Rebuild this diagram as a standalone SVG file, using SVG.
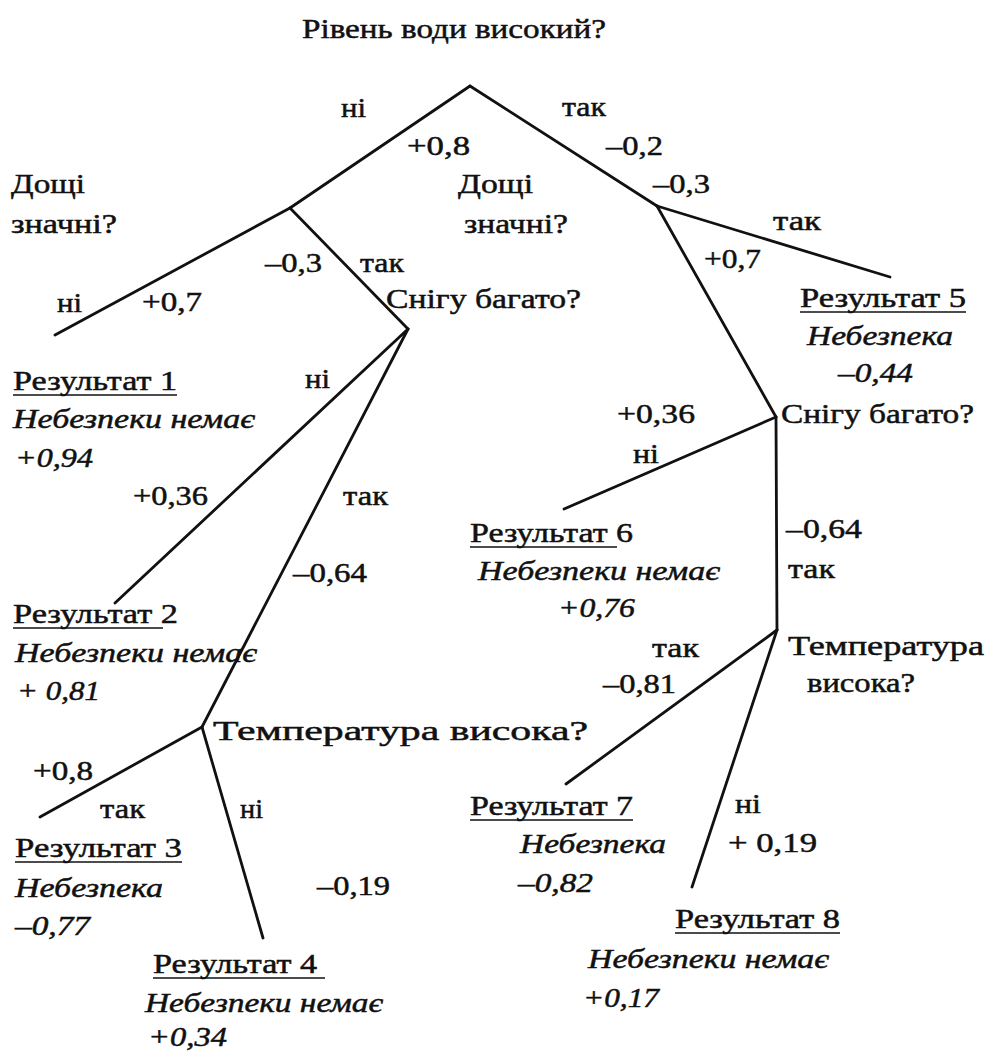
<svg xmlns="http://www.w3.org/2000/svg" width="985" height="1053" viewBox="0 0 985 1053">
<style>
text{font-family:"Liberation Serif","Times New Roman",serif;font-size:28px;fill:#111;stroke:#111;stroke-width:0.5;}
.i{font-style:italic;}
.e{stroke:#111;stroke-width:2.8;stroke-linecap:round;fill:none;}
.u{stroke:#111;stroke-width:1.6;}
</style>
<rect width="985" height="1053" fill="#fff"/>
<g id="connectors">
<line class="e" x1="470" y1="86" x2="290" y2="208"/>
<line class="e" x1="470" y1="86" x2="657" y2="206"/>
<line class="e" x1="290" y1="208" x2="55" y2="335"/>
<line class="e" x1="290" y1="208" x2="408" y2="329"/>
<line class="e" x1="408" y1="329" x2="115" y2="603"/>
<line class="e" x1="408" y1="329" x2="202" y2="727"/>
<line class="e" x1="202" y1="727" x2="40" y2="817"/>
<line class="e" x1="202" y1="727" x2="263" y2="938"/>
<line class="e" x1="657" y1="206" x2="890" y2="277"/>
<line class="e" x1="657" y1="206" x2="776" y2="417"/>
<line class="e" x1="776" y1="417" x2="564" y2="509"/>
<line class="e" x1="776" y1="417" x2="777" y2="630"/>
<line class="e" x1="777" y1="630" x2="566" y2="784"/>
<line class="e" x1="777" y1="630" x2="692" y2="887"/>
</g>
<g id="edge-labels">
<text x="341" y="117" textLength="25" lengthAdjust="spacingAndGlyphs">ні</text>
<text x="407" y="155" textLength="63" lengthAdjust="spacingAndGlyphs">+0,8</text>
<text x="562" y="116" textLength="44" lengthAdjust="spacingAndGlyphs">так</text>
<text x="606" y="155" textLength="57" lengthAdjust="spacingAndGlyphs">–0,2</text>
<text x="57" y="312" textLength="25" lengthAdjust="spacingAndGlyphs">ні</text>
<text x="142" y="311" textLength="60" lengthAdjust="spacingAndGlyphs">+0,7</text>
<text x="265" y="272" textLength="57" lengthAdjust="spacingAndGlyphs">–0,3</text>
<text x="360" y="272" textLength="44" lengthAdjust="spacingAndGlyphs">так</text>
<text x="653" y="193" textLength="57" lengthAdjust="spacingAndGlyphs">–0,3</text>
<text x="773" y="230" textLength="48" lengthAdjust="spacingAndGlyphs">так</text>
<text x="704" y="268" textLength="57" lengthAdjust="spacingAndGlyphs">+0,7</text>
<text x="305" y="388" textLength="25" lengthAdjust="spacingAndGlyphs">ні</text>
<text x="133" y="505" textLength="75" lengthAdjust="spacingAndGlyphs">+0,36</text>
<text x="343" y="505" textLength="45" lengthAdjust="spacingAndGlyphs">так</text>
<text x="293" y="582" textLength="74" lengthAdjust="spacingAndGlyphs">–0,64</text>
<text x="33" y="780" textLength="60" lengthAdjust="spacingAndGlyphs">+0,8</text>
<text x="100" y="818" textLength="45" lengthAdjust="spacingAndGlyphs">так</text>
<text x="240" y="818" textLength="23" lengthAdjust="spacingAndGlyphs">ні</text>
<text x="317" y="895" textLength="73" lengthAdjust="spacingAndGlyphs">–0,19</text>
<text x="617" y="423" textLength="78" lengthAdjust="spacingAndGlyphs">+0,36</text>
<text x="633" y="463" textLength="26" lengthAdjust="spacingAndGlyphs">ні</text>
<text x="786" y="538" textLength="76" lengthAdjust="spacingAndGlyphs">–0,64</text>
<text x="788" y="578" textLength="47" lengthAdjust="spacingAndGlyphs">так</text>
<text x="652" y="657" textLength="47" lengthAdjust="spacingAndGlyphs">так</text>
<text x="603" y="693" textLength="73" lengthAdjust="spacingAndGlyphs">–0,81</text>
<text x="735" y="813" textLength="26" lengthAdjust="spacingAndGlyphs">ні</text>
<text x="728" y="852" textLength="89" lengthAdjust="spacingAndGlyphs">+ 0,19</text>
</g>
<g id="n-root"><text x="302" y="38" textLength="304" lengthAdjust="spacingAndGlyphs">Рівень води високий?</text></g>
<g id="n-rain-left"><text x="11" y="193" textLength="74" lengthAdjust="spacingAndGlyphs">Дощі</text><text x="11" y="233" textLength="106" lengthAdjust="spacingAndGlyphs">значні?</text></g>
<g id="n-rain-right"><text x="458" y="193" textLength="75" lengthAdjust="spacingAndGlyphs">Дощі</text><text x="464" y="233" textLength="104" lengthAdjust="spacingAndGlyphs">значні?</text></g>
<g id="n-snow-left"><text x="386" y="308" textLength="195" lengthAdjust="spacingAndGlyphs">Снігу багато?</text></g>
<g id="n-snow-right"><text x="781" y="423" textLength="193" lengthAdjust="spacingAndGlyphs">Снігу багато?</text></g>
<g id="n-temp-left"><text x="213" y="740" textLength="375" lengthAdjust="spacingAndGlyphs">Температура висока?</text></g>
<g id="n-temp-right"><text x="788" y="655" textLength="196" lengthAdjust="spacingAndGlyphs">Температура</text><text x="807" y="692" textLength="108" lengthAdjust="spacingAndGlyphs">висока?</text></g>
<g id="n-result1"><text x="13" y="390" textLength="164" lengthAdjust="spacingAndGlyphs">Результат 1</text><line class="u" x1="13" y1="395" x2="177" y2="395"/><text class="i" x="13" y="428" textLength="242" lengthAdjust="spacingAndGlyphs">Небезпеки немає</text><text class="i" x="15" y="467" textLength="78" lengthAdjust="spacingAndGlyphs">+0,94</text></g>
<g id="n-result2"><text x="13" y="623" textLength="165" lengthAdjust="spacingAndGlyphs">Результат 2</text><line class="u" x1="13" y1="628" x2="163" y2="628"/><text class="i" x="15" y="662" textLength="242" lengthAdjust="spacingAndGlyphs">Небезпеки немає</text><text class="i" x="17" y="700" textLength="83" lengthAdjust="spacingAndGlyphs">+ 0,81</text></g>
<g id="n-result3"><text x="15" y="857" textLength="167" lengthAdjust="spacingAndGlyphs">Результат 3</text><line class="u" x1="15" y1="862" x2="182" y2="862"/><text class="i" x="15" y="897" textLength="148" lengthAdjust="spacingAndGlyphs">Небезпека</text><text class="i" x="15" y="935" textLength="75" lengthAdjust="spacingAndGlyphs">–0,77</text></g>
<g id="n-result4"><text x="153" y="973" textLength="164" lengthAdjust="spacingAndGlyphs">Результат 4</text><line class="u" x1="153" y1="978" x2="325" y2="978"/><text class="i" x="145" y="1012" textLength="238" lengthAdjust="spacingAndGlyphs">Небезпеки немає</text><text class="i" x="148" y="1046" textLength="79" lengthAdjust="spacingAndGlyphs">+0,34</text></g>
<g id="n-result5"><text x="800" y="307" textLength="166" lengthAdjust="spacingAndGlyphs">Результат 5</text><line class="u" x1="800" y1="312" x2="966" y2="312"/><text class="i" x="807" y="345" textLength="146" lengthAdjust="spacingAndGlyphs">Небезпека</text><text class="i" x="838" y="382" textLength="75" lengthAdjust="spacingAndGlyphs">–0,44</text></g>
<g id="n-result6"><text x="470" y="542" textLength="163" lengthAdjust="spacingAndGlyphs">Результат 6</text><line class="u" x1="470" y1="547" x2="617" y2="547"/><text class="i" x="478" y="580" textLength="242" lengthAdjust="spacingAndGlyphs">Небезпеки немає</text><text class="i" x="558" y="617" textLength="77" lengthAdjust="spacingAndGlyphs">+0,76</text></g>
<g id="n-result7"><text x="470" y="815" textLength="163" lengthAdjust="spacingAndGlyphs">Результат 7</text><line class="u" x1="470" y1="820" x2="633" y2="820"/><text class="i" x="520" y="853" textLength="146" lengthAdjust="spacingAndGlyphs">Небезпека</text><text class="i" x="518" y="892" textLength="75" lengthAdjust="spacingAndGlyphs">–0,82</text></g>
<g id="n-result8"><text x="675" y="928" textLength="165" lengthAdjust="spacingAndGlyphs">Результат 8</text><line class="u" x1="675" y1="933" x2="840" y2="933"/><text class="i" x="588" y="968" textLength="241" lengthAdjust="spacingAndGlyphs">Небезпеки немає</text><text class="i" x="583" y="1007" textLength="76" lengthAdjust="spacingAndGlyphs">+0,17</text></g>
</svg>
